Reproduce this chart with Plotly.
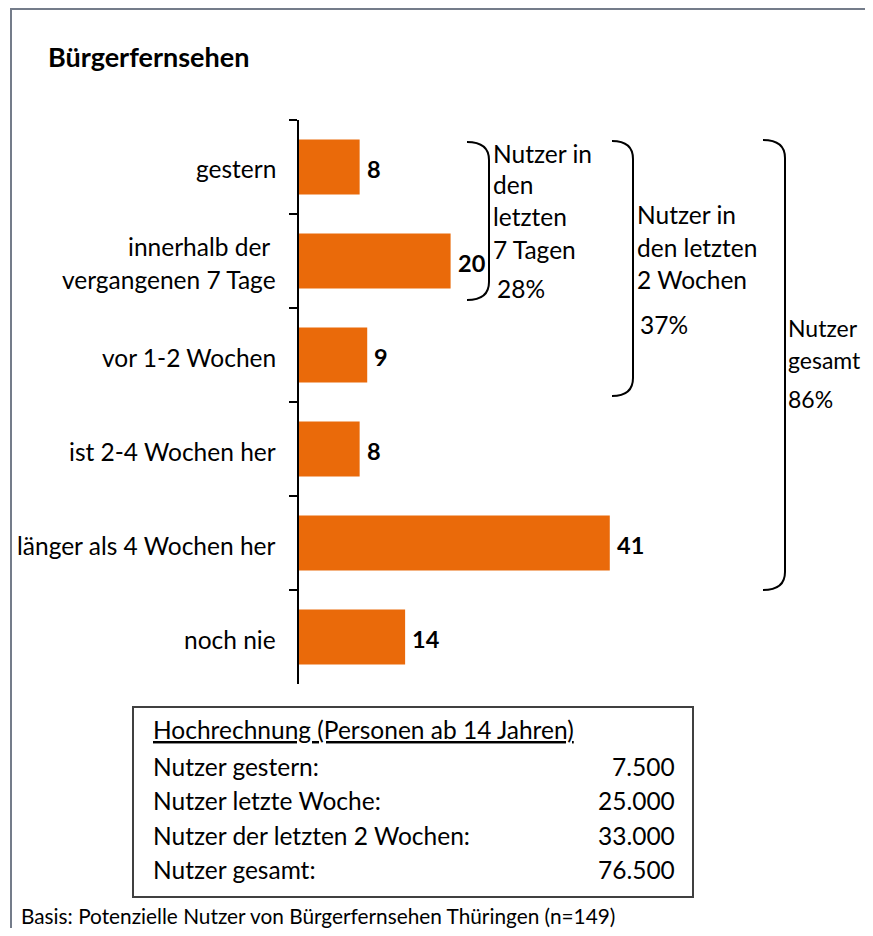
import plotly.graph_objects as go

# page offset caused by the default 8px body margin
OX, OY = 8, 8
W, H = 865, 920

# ---- data ----
categories = ["gestern", "innerhalb der\u00a0<br>vergangenen 7 Tage", "vor 1-2 Wochen",
              "ist 2-4 Wochen her", "länger als 4 Wochen her", "noch nie"]
values = [8, 20, 9, 8, 41, 14]

title = "Bürgerfernsehen"

brace_labels = [
    (["Nutzer in", "den", "letzten", "7 Tagen"], "28%"),
    (["Nutzer in", "den letzten", "2 Wochen"], "37%"),
    (["Nutzer", "gesamt"], "86%"),
]

table_title = "Hochrechnung (Personen ab 14 Jahren)"
table_rows = ["Nutzer gestern:", "Nutzer letzte Woche:", "Nutzer der letzten 2 Wochen:", "Nutzer gesamt:"]
table_values = ["7.500", "25.000", "33.000", "76.500"]

footnote = "Basis: Potenzielle Nutzer von Bürgerfernsehen Thüringen (n=149)"

# ---- helpers (page pixel -> paper fraction) ----
def px(x):
    return (x - OX) / W

def py(y):
    return 1 - (y - OY) / H

FONT = "Lato, Carlito, 'Open Sans', sans-serif"
ORANGE = "#EA6A0A"
FS = 24.5

x0_px = 299
ppu = 7.58
xmax = 60
x1_px = x0_px + ppu * xmax

fig = go.Figure()
fig.add_trace(go.Bar(
    y=categories, x=values, orientation="h",
    marker=dict(color=ORANGE, line=dict(width=0)),
    width=0.585, hoverinfo="skip",
))

annotations = []

# category labels
for cat in categories:
    lines = cat.split("<br>")
    n = len(lines)
    for i, line in enumerate(lines):
        shift = (-(i - (n - 1) / 2) * 32) - 2
        annotations.append(dict(
            x=px(278), xref="paper", y=cat, yref="y", yshift=shift,
            text=line, showarrow=False, xanchor="right", yanchor="middle",
            font=dict(family=FONT, size=FS, color="#000000"),
        ))

# value labels
for cat, v in zip(categories, values):
    annotations.append(dict(
        x=v, xref="x", y=cat, yref="y", xshift=5, yshift=-2,
        text=f"<b>{v}</b>", showarrow=False, xanchor="left", yanchor="middle",
        font=dict(family=FONT, size=23.5, color="#000000"),
    ))

# title
annotations.append(dict(
    x=px(46), y=py(57), xref="paper", yref="paper", text=f"<b>{title}</b>",
    showarrow=False, xanchor="left", yanchor="middle",
    font=dict(family=FONT, size=27, color="#000000"),
))

# braces
braces = [
    (467, 489, 142, 300),
    (612, 633, 141, 396),
    (763, 785, 140, 590),
]
shapes = []
for (bx0, bx1, by0, by1) in braces:
    r = 18
    path = (f"M {px(bx0)},{py(by0)} Q {px(bx1)},{py(by0)} {px(bx1)},{py(by0 + r)} "
            f"L {px(bx1)},{py(by1 - r)} Q {px(bx1)},{py(by1)} {px(bx0)},{py(by1)}")
    shapes.append(dict(type="path", xref="paper", yref="paper", path=path,
                       line=dict(color="#000000", width=2)))

brace_text_pos = [
    (491, 153, 495, 289, FS),
    (635, 215, 638, 325, FS),
    (786, 328, 786, 399, 23),
]
for (lines, pct), (tx, ty, ptx, pty, fs) in zip(brace_labels, brace_text_pos):
    for i, line in enumerate(lines):
        annotations.append(dict(
            x=px(tx), y=py(ty + 32 * i), xref="paper", yref="paper", text=line,
            showarrow=False, xanchor="left", yanchor="middle",
            font=dict(family=FONT, size=fs, color="#000000"),
        ))
    annotations.append(dict(
        x=px(ptx), y=py(pty), xref="paper", yref="paper", text=pct,
        showarrow=False, xanchor="left", yanchor="middle",
        font=dict(family=FONT, size=fs, color="#000000"),
    ))

# table box
shapes.append(dict(type="rect", xref="paper", yref="paper",
                   x0=px(133), x1=px(693), y0=py(707), y1=py(897),
                   line=dict(color="#404040", width=2), fillcolor="rgba(0,0,0,0)"))
annotations.append(dict(
    x=px(151), y=py(729), xref="paper", yref="paper", text=f"<u>{table_title}</u>",
    showarrow=False, xanchor="left", yanchor="middle",
    font=dict(family=FONT, size=FS, color="#000000"),
))
for i, (lab, val) in enumerate(zip(table_rows, table_values)):
    yy = 766 + 34.5 * i
    annotations.append(dict(
        x=px(151), y=py(yy), xref="paper", yref="paper", text=lab,
        showarrow=False, xanchor="left", yanchor="middle",
        font=dict(family=FONT, size=FS, color="#000000"),
    ))
    annotations.append(dict(
        x=px(677), y=py(yy), xref="paper", yref="paper", text=val,
        showarrow=False, xanchor="right", yanchor="middle",
        font=dict(family=FONT, size=FS, color="#000000"),
    ))

# footnote
annotations.append(dict(
    x=px(19), y=py(915), xref="paper", yref="paper", text=footnote,
    showarrow=False, xanchor="left", yanchor="middle",
    font=dict(family=FONT, size=20.8, color="#000000"),
))

# outer frame
shapes.append(dict(type="rect", xref="paper", yref="paper",
                   x0=px(11), x1=px(W + 40), y0=py(9), y1=py(H + 60),
                   line=dict(color="#747C8A", width=2), fillcolor="rgba(0,0,0,0)"))

fig.update_layout(
    width=W, height=H,
    margin=dict(l=0, r=0, t=0, b=0),
    paper_bgcolor="white", plot_bgcolor="white",
    showlegend=False,
    xaxis=dict(domain=[px(x0_px), px(x1_px)], range=[0, xmax], visible=False, fixedrange=True),
    yaxis=dict(domain=[py(684), py(120)], autorange="reversed", type="category",
               showline=True, linecolor="#000000", linewidth=2,
               ticks="outside", tickson="boundaries", ticklen=8, tickwidth=2, tickcolor="#000000",
               showticklabels=False, showgrid=False, zeroline=False, fixedrange=True),
    annotations=annotations,
    shapes=shapes,
)

fig.write_html("out.html")
